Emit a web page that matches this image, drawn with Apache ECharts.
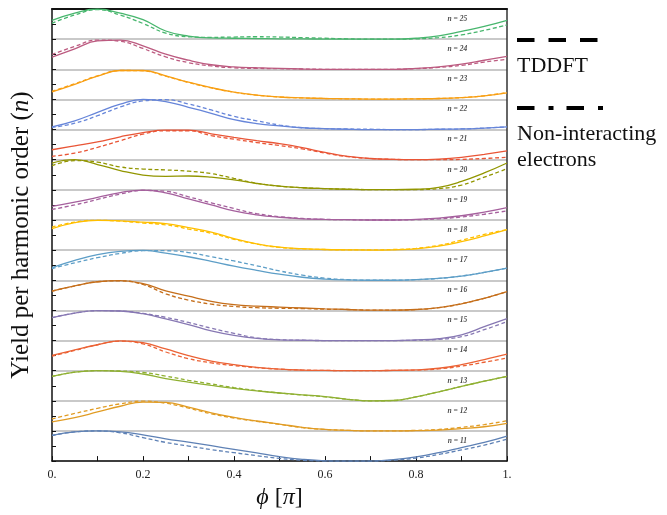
<!DOCTYPE html>
<html>
<head>
<meta charset="utf-8">
<title>Harmonic yield vs phase</title>
<script src="https://cdn.jsdelivr.net/npm/echarts@6/dist/echarts.min.js"></script>
<style>
  html, body { margin: 0; padding: 0; background: #fff; }
  #chart { width: 667px; height: 515px; }
</style>
</head>
<body>
<div id="chart"></div>
<script>
// Relative phase (units of pi) at which each curve is sampled
const phi = [0, 0.05, 0.1, 0.15, 0.2, 0.25, 0.3, 0.35, 0.4, 0.45, 0.5,
             0.55, 0.6, 0.65, 0.7, 0.75, 0.8, 0.85, 0.9, 0.95, 1.0];

// Harmonic orders, bottom band first
const harmonicOrders = [11, 12, 13, 14, 15, 16, 17, 18, 19, 20, 21, 22, 23, 24, 25];

// Colour of each harmonic order's band
const bandColors = ['#5E81B5', '#E19C24', '#8FB032', '#EB6235', '#8778B3',
                    '#C56E1A', '#5D9EC7', '#FFBF00', '#A5609D', '#929600',
                    '#E95536', '#6685D9', '#F89F13', '#BC5B80', '#47B66D'];

// Normalised yield (0 = band floor, 1 = band ceiling), solid curves
const solid11 = [0.85,0.97,1.00,0.97,0.87,0.74,0.63,0.51,0.39,0.27,0.15,0.06,0.01,0.00,0.00,0.05,0.14,0.28,0.45,0.62,0.83];
const solid12 = [0.30,0.44,0.63,0.82,0.96,0.95,0.79,0.60,0.45,0.33,0.23,0.12,0.05,0.02,0.00,0.00,0.01,0.03,0.08,0.14,0.25];
const solid13 = [0.81,0.95,1.00,0.98,0.89,0.74,0.62,0.51,0.41,0.33,0.26,0.20,0.14,0.05,0.00,0.01,0.13,0.30,0.48,0.65,0.81];
const solid14 = [0.51,0.69,0.86,0.99,0.93,0.72,0.50,0.32,0.20,0.11,0.05,0.02,0.01,0.00,0.00,0.01,0.03,0.08,0.20,0.37,0.55];
const solid15 = [0.76,0.91,0.99,0.98,0.89,0.72,0.53,0.32,0.17,0.07,0.02,0.01,0.00,0.00,0.00,0.00,0.02,0.06,0.19,0.46,0.73];
const solid16 = [0.64,0.81,0.95,0.99,0.89,0.65,0.47,0.30,0.19,0.14,0.11,0.08,0.05,0.03,0.01,0.01,0.03,0.09,0.22,0.40,0.62];
const solid17 = [0.42,0.66,0.85,0.96,0.99,0.90,0.78,0.63,0.47,0.33,0.20,0.10,0.04,0.01,0.00,0.00,0.02,0.06,0.14,0.26,0.40];
const solid18 = [0.71,0.91,0.99,0.97,0.93,0.88,0.75,0.60,0.38,0.21,0.10,0.05,0.02,0.01,0.00,0.01,0.04,0.13,0.28,0.47,0.68];
const solid19 = [0.45,0.59,0.75,0.91,0.99,0.90,0.70,0.50,0.30,0.17,0.09,0.04,0.02,0.01,0.00,0.00,0.02,0.06,0.14,0.26,0.41];
const solid20 = [0.89,1.00,0.84,0.64,0.49,0.45,0.46,0.42,0.33,0.21,0.12,0.07,0.04,0.02,0.01,0.01,0.02,0.08,0.28,0.56,0.89];
const solid21 = [0.33,0.46,0.59,0.76,0.90,0.98,0.98,0.86,0.74,0.63,0.53,0.40,0.24,0.11,0.04,0.01,0.00,0.02,0.08,0.18,0.29];
const solid22 = [0.09,0.29,0.57,0.84,1.00,0.93,0.74,0.54,0.33,0.20,0.12,0.06,0.03,0.01,0.00,0.00,0.00,0.01,0.02,0.05,0.09];
const solid23 = [0.25,0.50,0.77,0.96,0.96,0.78,0.57,0.39,0.24,0.14,0.08,0.05,0.03,0.02,0.01,0.01,0.02,0.03,0.06,0.12,0.22];
const solid24 = [0.40,0.68,0.94,0.97,0.78,0.50,0.30,0.15,0.08,0.05,0.03,0.01,0.00,0.00,0.00,0.00,0.03,0.08,0.17,0.30,0.43];
const solid25 = [0.62,0.86,1.00,0.86,0.65,0.27,0.10,0.04,0.03,0.02,0.01,0.01,0.00,0.00,0.00,0.00,0.03,0.11,0.26,0.42,0.62];

// Normalised yield, dashed curves
const dashed11 = [0.85,0.97,1.00,0.94,0.78,0.62,0.50,0.38,0.28,0.18,0.09,0.03,0.00,0.00,0.00,0.03,0.10,0.22,0.37,0.53,0.73];
const dashed12 = [0.40,0.58,0.75,0.90,0.99,0.92,0.76,0.57,0.43,0.32,0.22,0.11,0.05,0.02,0.00,0.00,0.02,0.05,0.12,0.21,0.34];
const dashed13 = [0.81,0.95,1.00,0.99,0.94,0.82,0.68,0.56,0.44,0.34,0.26,0.19,0.13,0.05,0.00,0.01,0.13,0.30,0.48,0.65,0.81];
const dashed14 = [0.48,0.67,0.86,0.98,0.89,0.62,0.40,0.26,0.17,0.10,0.05,0.02,0.01,0.00,0.00,0.01,0.02,0.06,0.15,0.28,0.42];
const dashed15 = [0.76,0.91,0.99,0.98,0.90,0.77,0.60,0.41,0.24,0.09,0.03,0.01,0.00,0.00,0.00,0.00,0.01,0.04,0.13,0.36,0.63];
const dashed16 = [0.64,0.81,0.95,0.98,0.86,0.55,0.34,0.21,0.13,0.09,0.07,0.06,0.04,0.03,0.01,0.01,0.03,0.09,0.22,0.40,0.62];
const dashed17 = [0.39,0.58,0.75,0.89,0.98,0.98,0.92,0.78,0.64,0.48,0.31,0.17,0.07,0.02,0.00,0.00,0.02,0.06,0.14,0.26,0.40];
const dashed18 = [0.76,0.93,0.99,0.96,0.90,0.84,0.70,0.56,0.36,0.20,0.09,0.04,0.02,0.01,0.01,0.02,0.06,0.16,0.33,0.52,0.68];
const dashed19 = [0.35,0.50,0.68,0.86,0.98,0.95,0.77,0.57,0.38,0.21,0.11,0.05,0.02,0.01,0.00,0.00,0.01,0.04,0.10,0.19,0.30];
const dashed20 = [0.80,0.97,0.92,0.76,0.69,0.66,0.62,0.54,0.38,0.22,0.12,0.07,0.04,0.02,0.01,0.01,0.01,0.04,0.16,0.42,0.70];
const dashed21 = [0.11,0.22,0.41,0.63,0.85,0.96,0.96,0.80,0.68,0.57,0.47,0.36,0.22,0.10,0.04,0.01,0.00,0.00,0.01,0.04,0.08];
const dashed22 = [0.07,0.21,0.46,0.75,0.95,0.99,0.85,0.65,0.44,0.29,0.15,0.06,0.03,0.02,0.01,0.00,0.00,0.01,0.02,0.05,0.09];
const dashed23 = [0.27,0.52,0.78,0.96,0.95,0.77,0.56,0.38,0.24,0.14,0.08,0.05,0.03,0.02,0.01,0.01,0.02,0.03,0.06,0.12,0.23];
const dashed24 = [0.49,0.76,0.97,0.93,0.69,0.41,0.22,0.11,0.05,0.03,0.02,0.01,0.00,0.00,0.00,0.00,0.02,0.06,0.13,0.24,0.33];
const dashed25 = [0.53,0.80,0.98,0.80,0.52,0.20,0.08,0.06,0.07,0.08,0.07,0.05,0.03,0.01,0.00,0.00,0.01,0.05,0.14,0.29,0.47];

const solidCurves = [solid11, solid12, solid13, solid14, solid15, solid16, solid17, solid18,
                     solid19, solid20, solid21, solid22, solid23, solid24, solid25];
const dashedCurves = [dashed11, dashed12, dashed13, dashed14, dashed15, dashed16, dashed17, dashed18,
                      dashed19, dashed20, dashed21, dashed22, dashed23, dashed24, dashed25];

// Where the "n = ..." tag sits inside each band (phase, fraction of band height)
const tagPhase = 0.891;
const tagLevel = 0.67;

const SERIF = '"Liberation Serif", "DejaVu Serif", serif';

const series = [];
harmonicOrders.forEach((n, k) => {
  const color = bandColors[k];
  series.push({
    type: 'line', name: 'solid ' + n, smooth: 0.45, symbol: 'none', silent: true,
    lineStyle: { color: color, width: 1.3 },
    data: phi.map((x, i) => [x, k + solidCurves[k][i]])
  });
  series.push({
    type: 'line', name: 'dashed ' + n, smooth: 0.45, symbol: 'none', silent: true,
    lineStyle: { color: color, width: 1.3, type: [4, 2.5] },
    data: phi.map((x, i) => [x, k + dashedCurves[k][i]])
  });
});

// Order tags inside each band
series.push({
  type: 'scatter', symbolSize: 0, silent: true,
  data: harmonicOrders.map((n, k) => ({ value: [tagPhase, k + tagLevel], order: n })),
  label: {
    show: true, position: 'inside',
    formatter: p => 'n = ' + p.data.order,
    fontFamily: SERIF, fontStyle: 'italic', fontWeight: 'bold', fontSize: 7.5, color: '#222'
  }
});

const chart = echarts.init(document.getElementById('chart'), null, { renderer: 'canvas' });

chart.setOption({
  animation: false,
  backgroundColor: '#fff',
  grid: { left: 52, right: 160, top: 9, bottom: 52, containLabel: false },
  xAxis: [{
    type: 'value', min: 0, max: 1, interval: 0.1,
    name: '{i|ϕ} [{i|π}]',
    nameLocation: 'middle', nameGap: 22,
    nameTextStyle: {
      fontFamily: SERIF, fontSize: 24, color: '#111',
      rich: { i: { fontFamily: SERIF, fontStyle: 'italic', fontSize: 24, color: '#111' } }
    },
    axisLine: { show: true, lineStyle: { color: '#111', width: 1.5 } },
    axisTick: { show: true, inside: true, length: 5, lineStyle: { color: '#111', width: 1 } },
    axisLabel: {
      fontFamily: SERIF, fontSize: 12, color: '#222', margin: 8,
      formatter: v => {
        const r = Math.round(v * 10);
        if (r % 2) return '';
        if (r === 0) return '0.';
        if (r === 10) return '1.';
        return (r / 10).toFixed(1);
      }
    },
    splitLine: { show: false }
  }, {
    type: 'value', min: 0, max: 1, position: 'top',
    axisLine: { show: true, onZero: false, lineStyle: { color: '#111', width: 2 } },
    axisTick: { show: false }, axisLabel: { show: false }, splitLine: { show: false }
  }],
  yAxis: [{
    type: 'value', min: 0, max: 15, interval: 0.5,
    name: 'Yield per harmonic order ({i|n})',
    nameLocation: 'middle', nameGap: 18, nameRotate: 90,
    nameTextStyle: {
      fontFamily: SERIF, fontSize: 25, color: '#111',
      rich: { i: { fontFamily: SERIF, fontStyle: 'italic', fontSize: 25, color: '#111' } }
    },
    axisLine: { show: true, onZero: false, lineStyle: { color: '#111', width: 1.5 } },
    axisTick: { show: true, inside: true, length: 4, lineStyle: { color: '#111', width: 1 } },
    axisLabel: { show: false },
    splitLine: { show: true, lineStyle: { color: ['#c9c9c9', 'rgba(0,0,0,0)'], width: 2 } }
  }, {
    type: 'value', min: 0, max: 15, position: 'right',
    axisLine: { show: true, onZero: false, lineStyle: { color: '#333', width: 1.5 } },
    axisTick: { show: false }, axisLabel: { show: false }, splitLine: { show: false }
  }],
  series: series,
  graphic: [
    { type: 'line', silent: true,
      shape: { x1: 517, y1: 40, x2: 599, y2: 40 },
      style: { stroke: '#000', lineWidth: 4, lineDash: [17.5, 14] } },
    { type: 'text', silent: true, x: 517, y: 66,
      style: { text: 'TDDFT', font: '22px ' + SERIF, fill: '#111', textVerticalAlign: 'middle' } },
    { type: 'line', silent: true,
      shape: { x1: 517, y1: 108, x2: 603, y2: 108 },
      style: { stroke: '#000', lineWidth: 4, lineDash: [17.5, 14, 5, 13] } },
    { type: 'text', silent: true, x: 517, y: 134,
      style: { text: 'Non-interacting', font: '22px ' + SERIF, fill: '#111', textVerticalAlign: 'middle' } },
    { type: 'text', silent: true, x: 517, y: 160,
      style: { text: 'electrons', font: '22px ' + SERIF, fill: '#111', textVerticalAlign: 'middle' } }
  ]
});
</script>
</body>
</html>
